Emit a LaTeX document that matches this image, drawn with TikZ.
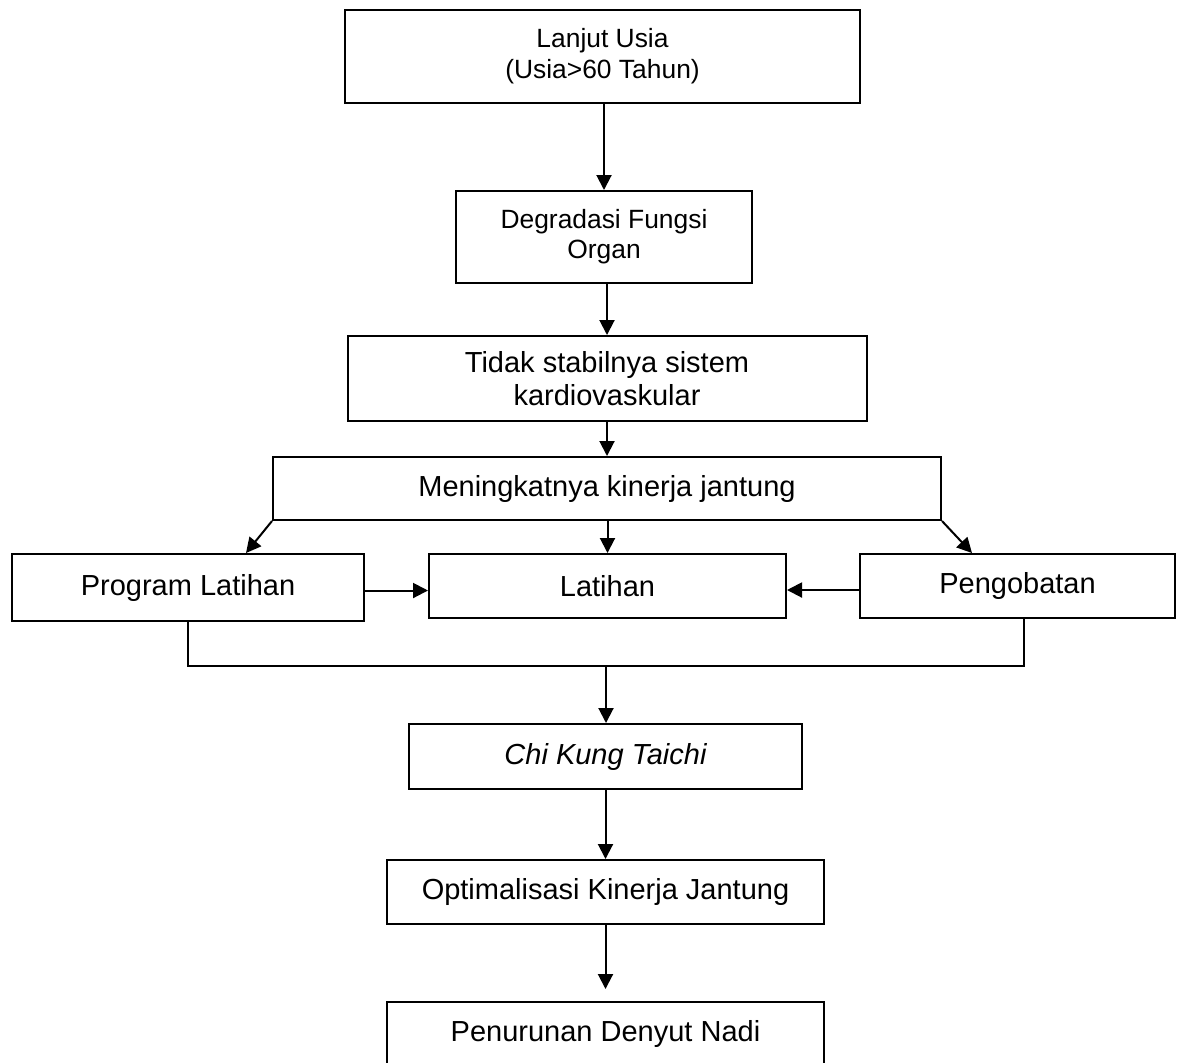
\documentclass[tikz,border=0pt]{standalone}
\usepackage{fontspec}
\setmainfont{Liberation Sans}
\usetikzlibrary{arrows.meta,positioning}
\tikzset{
  box/.style={draw, rectangle, line width=1pt, inner sep=2pt, align=center, font=\fontsize{14.5}{16.5}\selectfont},
  smallbox/.style={box, font=\fontsize{13.2}{15.5}\selectfont},
  arr/.style={-{Triangle[length=7.5pt,width=7.5pt]}, line width=1pt},
  link/.style={line width=1pt}
}

\begin{document}
\begin{tikzpicture}[x=0.5pt,y=-0.5pt]
    \useasboundingbox (0,0) rectangle (1177,1062);
    \clip (0,0) rectangle (1177,1062);

    % Top chain
    \node[smallbox, minimum width=257.5pt, minimum height=46.5pt] (usia) at (602.5,56.5) {Lanjut Usia\\(Usia>60 Tahun)};
    \node[smallbox, minimum width=148pt, minimum height=46pt, font=\fontsize{13.2}{15}\selectfont] (degradasi) at (604,237) {Degradasi Fungsi\\Organ};
    \node[box, minimum width=259.5pt, minimum height=42.5pt] (tidak) at (607,378.5) {Tidak stabilnya sistem\\kardiovaskular};
    \node[box, minimum width=334pt, minimum height=31.5pt] (meningkat) at (607,488.5) {Meningkatnya kinerja jantung};

    \draw[arr] (usia.south -| degradasi.north) -- (degradasi.north);
    \draw[arr] (degradasi.south -| tidak.north) -- (tidak.north);
    \draw[arr] (tidak.south -| meningkat.north) -- (meningkat.north);

    % Middle row
    \node[box, minimum width=176.25pt, minimum height=33.5pt] (program) at (188,587.5) {Program Latihan};
    \node[box, minimum width=178.5pt, minimum height=32pt] (latihan) at (607.5,586) {Latihan};
    \node[box, minimum width=157.5pt, minimum height=32pt] (pengobatan) at (1017.5,586) {Pengobatan};

    \draw[arr] (meningkat.south -| latihan.north) -- (latihan.north);
    \draw[arr] (meningkat.south west) -- ([xshift=29pt]program.north);
    \draw[arr] (meningkat.south east) -- ([xshift=-22.75pt]pengobatan.north);
    \draw[arr] ([yshift=-1.5pt]program.east) -- ([yshift=-1.5pt]program.east -| latihan.west);
    \draw[arr] ([yshift=-2pt]pengobatan.west) -- ([yshift=-2pt]pengobatan.west -| latihan.east);

    % Joining line
    \coordinate (join) at (606,666);
    \draw[link] (program.south) |- ([xshift=3.25pt]pengobatan.south |- join) -- ([xshift=3.25pt]pengobatan.south);

    % Bottom chain
    \node[box, minimum width=196.5pt, minimum height=32.5pt, font=\itshape\fontsize{14.5}{16.5}\selectfont] (chikung) at (605.5,756.5) {Chi Kung Taichi};
    \node[box, minimum width=218.5pt, minimum height=32pt] (optimal) at (605.5,892) {Optimalisasi Kinerja Jantung};
    \node[box, minimum width=218.5pt, minimum height=32pt] (penurunan) at (605.5,1034) {Penurunan Denyut Nadi};

    \draw[arr] (join) -- (join |- chikung.north);
    \draw[arr] (chikung.south) -- (optimal.north);
    \draw[arr, shorten >=6pt] (optimal.south) -- (penurunan.north);
\end{tikzpicture}
\end{document}
